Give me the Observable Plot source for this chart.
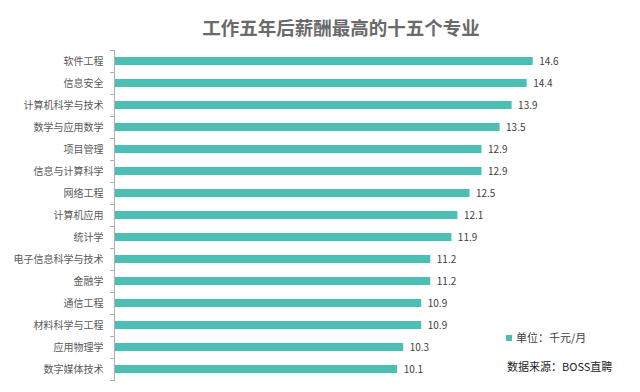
<!DOCTYPE html>
<html><head><meta charset="utf-8">
<script src="https://cdn.jsdelivr.net/npm/d3@7"></script>
<script src="https://cdn.jsdelivr.net/npm/@observablehq/plot@0.6"></script>
<style>
body{margin:0;background:#fff;font-family:"Noto Sans CJK SC","Noto Sans",sans-serif;}
#wrap{position:relative;width:640px;height:392px;overflow:hidden;}
#title{position:absolute;left:0;top:14px;width:640px;text-align:center;font-size:18.5px;font-weight:bold;color:#6a6a6a;padding-left:42px;box-sizing:border-box;}
#chart{position:absolute;left:0;top:45px;}
#legend{position:absolute;left:506px;top:329px;font-size:11px;color:#404040;}
#legend span{display:inline-block;width:6px;height:6px;background:#4cbfb5;margin-right:4px;vertical-align:1px;}
#source{position:absolute;left:507px;top:358px;font-size:11px;color:#222;}
</style></head>
<body>
<div id="wrap">
<div id="title">工作五年后薪酬最高的十五个专业</div>
<div id="chart"></div>
<div id="legend"><span></span>单位：千元/月</div>
<div id="source">数据来源：BOSS直聘</div>
</div>
<script>
const majors = ["软件工程","信息安全","计算机科学与技术","数学与应用数学","项目管理","信息与计算科学","网络工程","计算机应用","统计学","电子信息科学与技术","金融学","通信工程","材料科学与工程","应用物理学","数字媒体技术"];
const salaries = [14.6,14.4,13.9,13.5,12.9,12.9,12.5,12.1,11.9,11.2,11.2,10.9,10.9,10.3,10.1];
const data = majors.map((m,i)=>({major:m, value:salaries[i]}));
const barColor = "#4cbfb5";

const chart = Plot.plot({
  width: 640,
  height: 347,
  marginTop: 5,
  marginBottom: 12,
  marginLeft: 114,
  marginRight: 35,
  style: {fontFamily: '"Noto Sans CJK SC","Noto Sans",sans-serif', background: "transparent"},
  x: {domain: [0.7, 17], axis: null},
  y: {domain: majors, paddingInner: 0.64, paddingOuter: 0.32, label: null},
  marks: [
    Plot.barX(data, {y: "major", x: "value", fill: barColor, clip: true}),
    Plot.text(data, {y: "major", x: "value", text: d => d.value.toFixed(1), textAnchor: "start", dx: 6, fontSize: 10, fill: "#404040"}),
    Plot.axisY({tickSize: 0, tickPadding: 11, fontSize: 10, fill: "#595959", label: null}),
    Plot.axisY({tickSize: 4, tickFormat: null, dy: -11, stroke: "#b0b0b0", label: null}),
    Plot.axisY({ticks: majors.slice(-1), tickSize: 4, tickFormat: null, dy: 11, stroke: "#b0b0b0", label: null}),
    Plot.frame({anchor: "left", stroke: "#b0b0b0"})
  ]
});
document.getElementById("chart").appendChild(chart);
</script>
</body></html>
